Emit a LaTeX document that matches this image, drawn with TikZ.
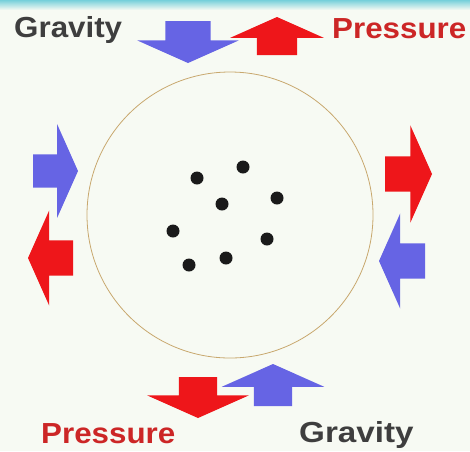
\documentclass[tikz,border=0pt]{standalone}
\usepackage{fontspec}
\setmainfont{Liberation Sans}
\usetikzlibrary{shapes.arrows}
\definecolor{sgBack}  {RGB}{247,250,243}
\definecolor{sgTop}   {RGB}{118,208,218}
\definecolor{sgBlue}  {RGB}{102,100,228}
\definecolor{sgRed}   {RGB}{238, 22, 26}
\definecolor{sgRedT}  {RGB}{204, 38, 38}
\definecolor{sgGrey}  {RGB}{ 62, 62, 62}
\definecolor{sgRim}   {RGB}{200,168,110}
\definecolor{sgDot}   {RGB}{ 26, 26, 26}

\begin{document}
\begin{tikzpicture}[
  x=1pt,y=-1pt,
  % length / shaft width / head width
  force/.style n args={3}{single arrow,single arrow tip angle=132,
                inner xsep=0pt,outer sep=0pt,anchor=tip,
                minimum height=#1,inner ysep={#2/2},
                single arrow head extend={(#3-#2)/2}},
  bluef/.style={fill=sgBlue},
  redf/.style ={fill=sgRed},
  label/.style={font=\fontsize{29}{30}\selectfont\bfseries,inner sep=0pt,
                anchor=base west,xscale=1.08},
  star/.style ={circle,fill=sgDot,inner sep=0pt,minimum size=13pt}
]
\fill[sgBack] (0,0) rectangle (470,451);
\shade[top color=sgTop,bottom color=sgBack] (0,0) rectangle (470,10);

% gas cloud
\node[circle,draw=sgRim,line width=0.8pt,minimum size=286pt] (cloud) at (230,215) {};
\node[star] (s1) at (197,178) {};
\node[star] (s2) at (243,167) {};
\node[star] (s3) at (277,198) {};
\node[star] (s4) at (222,204) {};
\node[star] (s5) at (173,231) {};
\node[star] (s6) at (267,239) {};
\node[star] (s7) at (226,258) {};
\node[star] (s8) at (189,265) {};

% top and bottom forces
\node[force={42pt}{45pt}{101pt},bluef,rotate=-90] (gtop) at (188,63)  {};
\node[force={38pt}{40pt}{93pt}, redf, rotate=90]  (ptop) at (277,17)  {};
\node[force={41pt}{38pt}{101pt},redf, rotate=-90] (pbot) at (198,418) {};
\node[force={42pt}{38pt}{102pt},bluef,rotate=90]  (gbot) at (273,364) {};
% side forces
\node[force={45pt}{33pt}{93pt}, bluef]            (gleft)  at (78,171)  {};
\node[force={45pt}{35pt}{95pt}, redf, rotate=180] (pleft)  at (28,258)  {};
\node[force={47pt}{35pt}{97pt}, redf]             (pright) at (432,174) {};
\node[force={46pt}{35pt}{95pt}, bluef,rotate=180] (gright) at (379,261) {};

% labels
\node[label,text=sgGrey] (lgtop) at (14,37)  {Gravity};
\node[label,text=sgRedT] (lptop) at (332,38) {Pressure};
\node[label,text=sgRedT] (lpbot) at (41,443) {Pressure};
\node[label,text=sgGrey,xscale=1.06] (lgbot) at (299,442) {Gravity};
\end{tikzpicture}
\end{document}
